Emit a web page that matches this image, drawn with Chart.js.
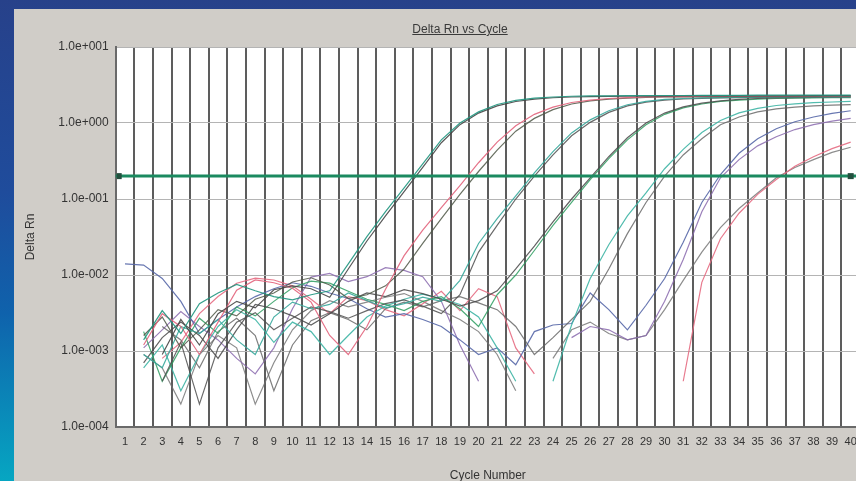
<!DOCTYPE html>
<html>
<head>
<meta charset="utf-8">
<script src="https://cdn.jsdelivr.net/npm/chart.js@4.4.1/dist/chart.umd.min.js"></script>
<style>
  html, body {
    margin: 0;
    padding: 0;
    width: 856px;
    height: 481px;
    overflow: hidden;
    background: linear-gradient(to bottom, #27418a 0%, #1f4c9c 40%, #0f62ac 65%, #06a6c2 100%);
    font-family: "Liberation Sans", Arial, sans-serif;
  }
  #panel {
    position: absolute;
    left: 14px;
    top: 9px;
    right: 0;
    bottom: 0;
    background: #d0cdc8;
    overflow: hidden;
  }
  #chartTitle {
    position: absolute;
    left: 446px;
    top: 13px;
    transform: translateX(-50%);
    font-size: 12px;
    color: #3a3a3a;
    text-decoration: underline;
    white-space: nowrap;
  }
  #deltaChart {
    position: absolute;
    left: 0;
    top: 0;
  }
</style>
</head>
<body>
<div id="panel">
  <canvas id="deltaChart" width="860" height="490"></canvas>
  <div id="chartTitle">Delta Rn vs Cycle</div>
</div>
<script>
// cycles on the x axis
const cycles = Array.from({length: 40}, (_, i) => String(i + 1));

// y axis decades and their labels
const yTicks = [1e-4, 1e-3, 1e-2, 1e-1, 1e0, 1e1];
const yTickLabels = ['1.0e-004', '1.0e-003', '1.0e-002', '1.0e-001', '1.0e+000', '1.0e+001'];

// threshold
const threshold = 0.2;

// amplification curves (Delta Rn per cycle)
const curveA1 = [null,0.0014,0.0034,0.0017,0.0042,0.0058,0.0075,0.0062,0.0052,0.0047,0.0055,0.0062,0.014,0.032,0.068,0.14,0.29,0.6,1.0,1.4,1.75,1.98,2.12,2.2,2.25,2.27,2.28,2.29,2.3,2.3,2.3,2.31,2.31,2.31,2.32,2.32,2.32,2.32,2.33,2.33];
const curveA2 = [null,null,0.0009,0.0026,0.0012,0.0031,0.0045,0.0037,0.0064,0.0072,0.0066,0.0051,0.012,0.028,0.06,0.125,0.26,0.55,0.95,1.35,1.68,1.92,2.06,2.15,2.2,2.22,2.24,2.25,2.26,2.26,2.27,2.27,2.27,2.28,2.28,2.28,2.28,2.29,2.29,2.29];
const curveB1 = [null,0.0012,0.0031,0.0021,0.0009,0.0024,0.0063,0.0086,0.0079,0.0067,0.0044,0.0016,0.0009,0.0021,0.0065,0.018,0.039,0.077,0.15,0.3,0.56,0.92,1.3,1.62,1.86,2.0,2.1,2.16,2.2,2.22,2.23,2.24,2.25,2.25,2.26,2.26,2.26,2.27,2.27,2.27];
const curveB2 = [null,0.0016,0.0028,0.0011,0.0019,0.0035,0.0029,0.0048,0.0058,0.0081,0.0092,0.0074,0.0049,0.0055,0.0072,0.012,0.026,0.055,0.115,0.23,0.44,0.78,1.15,1.5,1.78,1.95,2.06,2.13,2.17,2.2,2.21,2.22,2.22,2.23,2.23,2.24,2.24,2.24,2.25,2.25];
const curveC1 = [null,0.0009,0.0006,0.0021,0.0017,0.0026,0.0014,0.0009,0.0028,0.0044,0.0036,0.0041,0.0058,0.0046,0.0037,0.0042,0.0051,0.0045,0.0085,0.026,0.055,0.11,0.22,0.42,0.74,1.1,1.45,1.74,1.93,2.04,2.1,2.14,2.16,2.18,2.19,2.2,2.2,2.21,2.21,2.21];
const curveC2 = [null,null,0.0004,0.0013,0.0002,0.0011,0.0024,0.0032,0.0019,0.0027,0.0038,0.0033,0.0027,0.0034,0.0042,0.0047,0.0039,0.0031,0.0055,0.02,0.045,0.1,0.2,0.38,0.68,1.02,1.38,1.68,1.88,2.0,2.07,2.11,2.14,2.16,2.17,2.18,2.18,2.19,2.19,2.2];
const curveD1 = [null,0.0007,0.0015,0.0024,0.0016,0.0008,0.0019,0.0041,0.0036,0.0029,0.0022,0.0031,0.0045,0.0058,0.0052,0.0064,0.0057,0.0048,0.0039,0.0046,0.0062,0.012,0.024,0.05,0.1,0.19,0.36,0.64,1.0,1.35,1.63,1.83,1.96,2.05,2.1,2.14,2.16,2.18,2.19,2.2];
const curveD2 = [null,0.0018,0.0004,0.0011,0.0027,0.0017,0.0038,0.0029,0.0045,0.0068,0.0083,0.0078,0.0061,0.0048,0.0041,0.0034,0.0045,0.0052,0.0036,0.0021,0.0055,0.01,0.021,0.045,0.09,0.18,0.34,0.6,0.95,1.3,1.58,1.78,1.92,2.0,2.06,2.1,2.12,2.14,2.15,2.15];
const curveE1 = [null,0.0006,0.0012,0.0003,0.0009,0.0021,0.0035,0.0026,0.0013,0.0024,0.0018,0.0009,0.0016,0.0028,0.0039,0.0048,0.0056,0.0049,0.0041,0.0028,0.0011,0.0004,null,0.0004,0.0022,0.009,0.025,0.06,0.12,0.25,0.45,0.75,1.08,1.36,1.56,1.7,1.79,1.85,1.89,1.92];
const curveE2 = [null,null,0.0021,0.0014,0.0006,0.0018,0.0027,0.0016,0.0003,0.0012,0.0025,0.0032,0.0026,0.0019,0.0036,0.0044,0.0038,0.0046,0.0052,0.0043,0.0035,0.0021,0.0009,0.0015,0.0026,0.0045,0.012,0.035,0.09,0.2,0.38,0.62,0.95,1.2,1.4,1.53,1.62,1.68,1.72,1.75];
const curveF1 = [0.014,0.0135,0.009,0.0045,0.0017,0.0026,0.0038,0.0052,0.0066,0.0079,0.0071,0.0058,0.0049,0.0036,0.0028,0.0031,0.0026,0.0021,0.0014,0.0009,0.0011,0.00066,0.0018,0.0022,0.0023,0.0058,0.0035,0.0019,0.004,0.009,0.027,0.09,0.21,0.4,0.62,0.84,1.04,1.2,1.34,1.45];
const curveF2 = [null,0.0011,0.0019,0.0033,0.0021,0.0014,0.0008,0.0005,0.0011,0.0036,0.0094,0.0105,0.0082,0.0095,0.0125,0.0115,0.0095,0.0045,0.0012,0.0004,null,null,null,null,0.0015,0.0021,0.0019,0.0014,0.0016,0.0045,0.016,0.068,0.19,0.33,0.5,0.66,0.82,0.95,1.06,1.15];
const curveG1 = [null,null,0.0008,0.0013,0.0031,0.0052,0.0078,0.0091,0.0086,0.0072,0.0048,0.0031,0.0052,0.0046,0.0035,0.0029,0.0042,0.0061,0.0034,0.0066,0.0052,0.0011,0.0005,null,null,null,null,null,null,null,0.0004,0.008,0.03,0.065,0.115,0.18,0.27,0.36,0.46,0.56];
const curveG2 = [null,0.0009,0.0006,0.0002,0.0009,0.0016,0.0011,0.0002,0.0007,0.0019,0.0034,0.0046,0.0038,0.0044,0.0051,0.0057,0.0045,0.0034,0.0026,0.0018,0.0009,0.0003,null,0.0008,0.0019,0.0024,0.0017,0.0014,0.0016,0.0035,0.0085,0.02,0.042,0.075,0.12,0.19,0.26,0.33,0.41,0.48];

const curves = [
    {data: curveA1, color: 'rgba(32,150,128,.9)'},
    {data: curveA2, color: 'rgba(70,70,70,.9)'},
    {data: curveB1, color: 'rgba(226,100,124,.9)'},
    {data: curveB2, color: 'rgba(80,88,72,.85)'},
    {data: curveC1, color: 'rgba(56,168,156,.9)'},
    {data: curveC2, color: 'rgba(80,80,80,.85)'},
    {data: curveD1, color: 'rgba(72,72,72,.85)'},
    {data: curveD2, color: 'rgba(46,158,96,.85)'},
    {data: curveE1, color: 'rgba(63,181,165,.9)'},
    {data: curveE2, color: 'rgba(96,96,96,.8)'},
    {data: curveF1, color: 'rgba(88,104,168,.9)'},
    {data: curveF2, color: 'rgba(138,106,174,.85)'},
    {data: curveG1, color: 'rgba(229,107,130,.9)'},
    {data: curveG2, color: 'rgba(112,112,112,.8)'}
];

const plotBackground = {
    id: 'plotBackground',
    beforeDraw(chart) {
        const {ctx, chartArea} = chart;
        ctx.save();
        ctx.fillStyle = '#ffffff';
        ctx.fillRect(chartArea.left, chartArea.top, chartArea.width, chartArea.height);
        ctx.restore();
    }
};

const thresholdLine = {
    id: 'thresholdLine',
    afterDatasetsDraw(chart) {
        const {ctx, chartArea, scales} = chart;
        const y = scales.y.getPixelForValue(threshold);
        const xEnd = scales.x.getPixelForValue(cycles.length - 1);
        ctx.save();
        ctx.strokeStyle = '#1b8a60';
        ctx.lineWidth = 3;
        ctx.beginPath();
        ctx.moveTo(chartArea.left, y);
        ctx.lineTo(chartArea.right, y);
        ctx.stroke();
        ctx.fillStyle = '#24503f';
        ctx.fillRect(chartArea.left + 1, y - 3, 5, 6);
        ctx.fillRect(xEnd - 3, y - 3, 6, 6);
        ctx.restore();
    }
};

const ctx = document.getElementById('deltaChart');

new Chart(ctx, {
    type: 'line',
    data: {
        labels: cycles,
        datasets: curves.map(c => ({
            data: c.data,
            borderColor: c.color,
            borderWidth: 1.2,
            pointRadius: 0,
            tension: 0,
            spanGaps: false,
            fill: false
        }))
    },
    options: {
        responsive: false,
        animation: false,
        events: [],
        layout: {
            padding: {top: 38, right: 14, bottom: 12, left: 0}
        },
        plugins: {
            legend: {display: false},
            tooltip: {enabled: false}
        },
        scales: {
            x: {
                type: 'category',
                offset: true,
                afterFit: s => { s.height = 60; },
                grid: {
                    offset: true,
                    color: 'rgba(75,75,75,.9)',
                    lineWidth: 2,
                    drawTicks: false
                },
                border: {color: '#6a6a6a', width: 2},
                ticks: {
                    autoSkip: false,
                    maxRotation: 0,
                    padding: 8,
                    color: '#333',
                    font: {family: 'Liberation Sans', size: 11}
                },
                title: {
                    display: true,
                    text: 'Cycle Number',
                    color: '#333',
                    font: {family: 'Liberation Sans', size: 12},
                    padding: {top: 0, bottom: 4}
                }
            },
            y: {
                type: 'logarithmic',
                min: 1e-4,
                max: 10,
                afterFit: s => { s.width = 101.7; },
                afterBuildTicks: s => { s.ticks = yTicks.map(v => ({value: v})); },
                grid: {
                    color: '#b4b4b4',
                    lineWidth: 1,
                    drawTicks: false
                },
                border: {color: '#6a6a6a', width: 2},
                ticks: {
                    padding: 7,
                    color: '#333',
                    font: {family: 'Liberation Sans', size: 12},
                    callback: (v) => {
                        const i = yTicks.findIndex(t => Math.abs(Math.log10(t) - Math.log10(v)) < 1e-6);
                        return i >= 0 ? yTickLabels[i] : '';
                    }
                },
                title: {
                    display: true,
                    text: 'Delta Rn',
                    color: '#333',
                    font: {family: 'Liberation Sans', size: 12},
                    padding: {top: 9, bottom: 0}
                }
            }
        }
    },
    plugins: [plotBackground, thresholdLine]
});
</script>
</body>
</html>
